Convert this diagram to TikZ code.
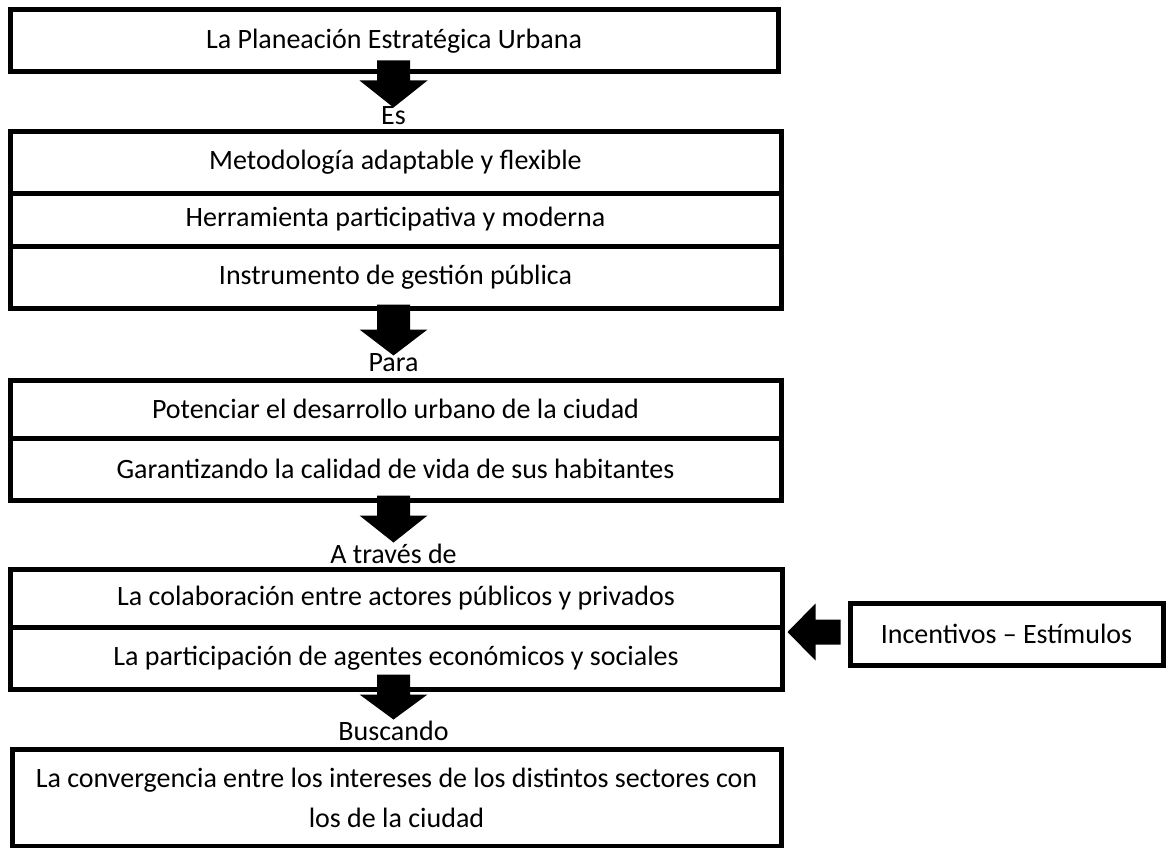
\documentclass[tikz,border=0pt]{standalone}
\usepackage{fontspec}
\setmainfont{Carlito}
\usetikzlibrary{calc}

\tikzset{
  caja/.style={draw, line width=5pt, rectangle, inner sep=0pt},
  etiqueta/.style={inner sep=0pt},
  pics/bajada/.style n args={2}{code={
    \fill (-16.5,0) -- (16.5,0) -- (16.5,#1) -- (34,#1) -- (0,#2) -- (-34,#1) -- (-16.5,#1) -- cycle;
  }},
  pics/izquierda/.style={code={
    \fill (0,-12.5) -- (0,12.5) -- (-25,12.5) -- (-25,28.5) -- (-53,0) -- (-25,-28.5) -- (-25,-12.5) -- cycle;
  }}
}

\begin{document}
\begin{tikzpicture}[x=1pt, y=-1pt, font=\fontsize{28}{34}\selectfont]
\useasboundingbox (0,0) rectangle (1167,848);

\node [caja, minimum width=768, minimum height=62] (plan) at (394,41) {La Planeación Estratégica Urbana};

\node [caja, minimum width=771, minimum height=61] (metodo) at (395.5,162.5) {Metodología adaptable y flexible};
\node [caja, minimum width=771, minimum height=53] (herram) at (395.5,219.5) {Herramienta participativa y moderna};
\node [caja, minimum width=771, minimum height=62] (instr) at (395.5,277) {Instrumento de gestión pública};

\node [caja, minimum width=771, minimum height=58] (potenciar) at (395.5,409) {Potenciar el desarrollo urbano de la ciudad};
\node [caja, minimum width=771, minimum height=62] (garant) at (395.5,469) {Garantizando la calidad de vida de sus habitantes};

\node [caja, minimum width=772, minimum height=58] (colab) at (396,598) {La colaboración entre actores públicos y privados};
\node [caja, minimum width=772, minimum height=62] (partic) at (396,658) {La participación de agentes económicos y sociales};

\node [caja, minimum width=769, minimum height=97, align=center,
       font=\fontsize{28}{40}\selectfont] (converg) at (396.5,797.5)
  {La convergencia entre los intereses de los distintos sectores con\\los de la ciudad};

\node [caja, minimum width=313, minimum height=62] (incent) at (1006.5,634) {Incentivos -- Estímulos};

% etiquetas
\node [etiqueta] (es) at (393.5,116) {Es};
\node [etiqueta] (para) at (393.5,363) {Para};
\node [etiqueta] (atraves) at (393.5,554) {A través de};
\node [etiqueta] (buscando) at (393.5,731) {Buscando};

% flechas
\pic at ($(plan.south)+(-0.5,-14)$) {bajada={20}{47}};
\pic at ($(instr.south)+(-2,-6)$) {bajada={25}{51}};
\pic at ($(garant.south)+(-2,-7)$) {bajada={20}{47}};
\pic at ($(partic.south)+(-2.5,-17)$) {bajada={20}{45}};
\pic at ($(incent.west)+(-7,-2)$) {izquierda};

\end{tikzpicture}
\end{document}
